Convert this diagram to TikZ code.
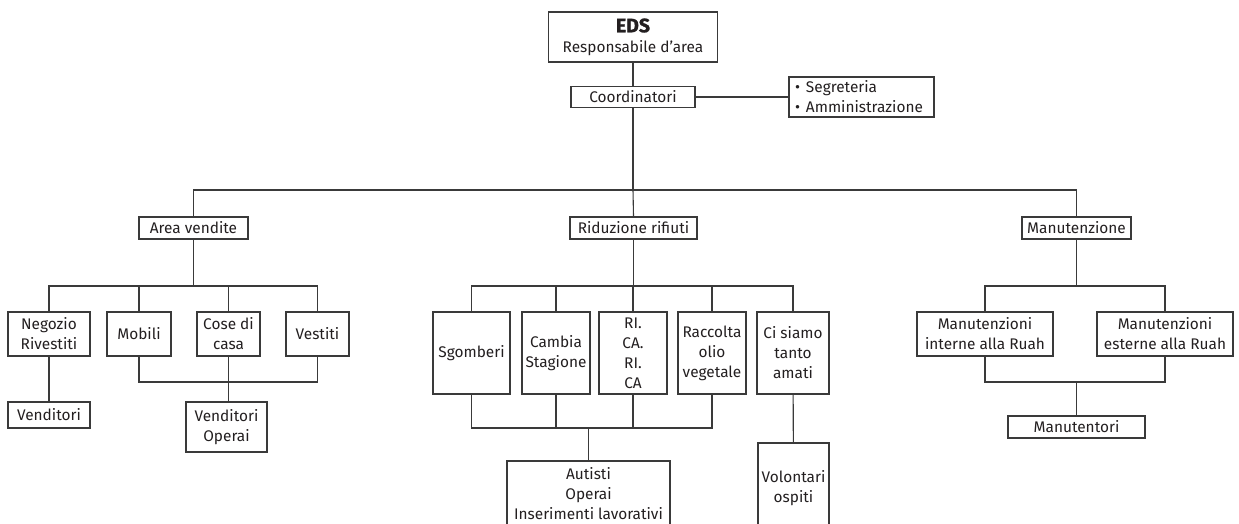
\documentclass[tikz,border=0pt]{standalone}
\usepackage{fontspec}
\setmainfont{Fira Sans}
\begin{document}
\begin{tikzpicture}[x=1pt,y=-1pt,
  font=\fontsize{15.4}{20}\selectfont,
  box/.style={draw=linegray,line width=1.1pt,text=inkblack,inner sep=0pt,align=center,anchor=center},
  link/.style={draw=linegray,line width=1.1pt}]
\definecolor{linegray}{HTML}{3A3A3A}
\definecolor{inkblack}{HTML}{231F20}
\useasboundingbox (0,0) rectangle (1239,524);
\clip (0,0) rectangle (1239,524);

% top of the chart
\node[box,minimum width=169,minimum height=50] (eds) at (633,37)
  {{\fontsize{19.5}{21}\selectfont\bfseries\addfontfeatures{FakeBold=1.2}EDS}\\Responsabile d’area};
\node[box,minimum width=124,minimum height=21] (coord) at (633,97) {Coordinatori};
\node[box,minimum width=145,minimum height=40,text width=133,align=left] (seg) at (861.5,97)
  {\textbullet\hspace{6pt}Segreteria\\\textbullet\hspace{6pt}Amministrazione};

% areas
\node[box,minimum width=109,minimum height=22] (area) at (193.5,228) {Area vendite};
\node[box,minimum width=127,minimum height=22] (rid) at (633.5,228) {Riduzione rifiuti};
\node[box,minimum width=109,minimum height=22] (manut) at (1076.5,228) {Manutenzione};

% area vendite
\node[box,minimum width=82,minimum height=44] (neg) at (49,334) {Negozio\\Rivestiti};
\node[box,minimum width=64,minimum height=44] (mob) at (139,334) {Mobili};
\node[box,minimum width=63,minimum height=44] (cose) at (228.5,334) {Cose di\\casa};
\node[box,minimum width=63,minimum height=44] (vest) at (317.5,334) {Vestiti};
\node[box,minimum width=82,minimum height=26] (vend) at (49,415) {Venditori};
\node[box,minimum width=81,minimum height=50] (vo) at (226.5,427) {Venditori\\Operai};

% riduzione rifiuti
\node[box,minimum width=77,minimum height=82] (sgo) at (471.5,353) {Sgomberi};
\node[box,minimum width=68,minimum height=82] (camb) at (556,353) {Cambia\\Stagione};
\node[box,minimum width=68,minimum height=82] (rica) at (633,353) {RI.\\CA.\\RI.\\CA};
\node[box,minimum width=68,minimum height=82] (racc) at (712,353) {Raccolta\\olio\\vegetale};
\node[box,minimum width=72,minimum height=82] (ci) at (793,353) {Ci siamo\\tanto\\amati};
\node[box,minimum width=163,minimum height=66] (aut) at (588.5,494) {Autisti\\Operai\\Inserimenti lavorativi};
\node[box,minimum width=71,minimum height=90] (vol) at (793.5,488) {Volontari\\ospiti};

% manutenzione
\node[box,minimum width=136,minimum height=44] (mint) at (985,334) {Manutenzioni\\interne alla Ruah};
\node[box,minimum width=136,minimum height=44] (mext) at (1165,334) {Manutenzioni\\esterne alla Ruah};
\node[box,minimum width=137,minimum height=22] (mtori) at (1076.5,427) {Manutentori};

% junction points
\coordinate (topbus) at (633,190);
\coordinate (avbus) at (193.5,286);
\coordinate (avlow) at (228.5,382);
\coordinate (ridbus) at (633.5,286);
\coordinate (ridlow) at (588.5,428);
\coordinate (manbus) at (1076.5,286);
\coordinate (manlow) at (1076.5,382);

% connectors
\draw[link] (eds) -- (coord);
\draw[link] (coord) -- (seg);
\draw[link] (coord.south) -- (topbus);
\draw[link] (area.north) |- (topbus) -| (manut.north);
\draw[link] (topbus) -- (rid.north);

\draw[link] (area) -- (avbus);
\draw[link] (neg.north) |- (avbus) -| (vest.north);
\draw[link] (mob.north) -- (mob.north |- avbus);
\draw[link] (cose.north) -- (cose.north |- avbus);
\draw[link] (mob.south) |- (avlow) -| (vest.south);
\draw[link] (cose.south) -- (cose.south |- vo.north);
\draw[link] (neg) -- (vend);

\draw[link] (rid) -- (ridbus);
\draw[link] (sgo.north) |- (ridbus) -| (ci.north);
\draw[link] (camb.north) -- (camb.north |- ridbus);
\draw[link] (racc.north) -- (racc.north |- ridbus);
\draw[link] (rica.north) -- (rica.north |- ridbus);
\draw[link] (sgo.south) |- (ridlow) -| (racc.south);
\draw[link] (camb.south) -- (camb.south |- ridlow);
\draw[link] (rica.south) -- (rica.south |- ridlow);
\draw[link] (ridlow) -- (aut.north);
\draw[link] (ci) -- (vol);

\draw[link] (manut) -- (manbus);
\draw[link] (mint.north) |- (manbus) -| (mext.north);
\draw[link] (mint.south) |- (manlow) -| (mext.south);
\draw[link] (manlow) -- (mtori);
\end{tikzpicture}
\end{document}
